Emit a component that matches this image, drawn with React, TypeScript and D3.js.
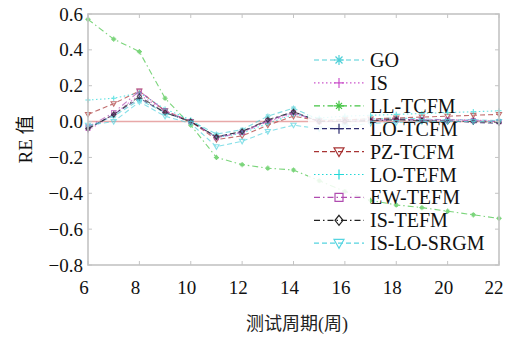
import React from "react";
import * as d3 from "d3";

const weeks = [6, 7, 8, 9, 10, 11, 12, 13, 14, 15, 16, 17, 18, 19, 20, 21, 22];
const xTicks = [6, 8, 10, 12, 14, 16, 18, 20, 22];
const yTicks = [0.6, 0.4, 0.2, 0.0, -0.2, -0.4, -0.6, -0.8];

const seriesNames = ["GO", "IS", "LL-TCFM", "LO-TCFM", "PZ-TCFM", "LO-TEFM", "EW-TEFM", "IS-TEFM", "IS-LO-SRGM"];

const goVals = [-0.03, 0.03, 0.12, 0.05, 0.005, -0.07, -0.045, 0.03, 0.075, 0.01, 0.01, 0.015, 0.02, 0.015, 0.01, 0.01, 0.005];
const isVals = [-0.05, 0.04, 0.15, 0.06, 0.0, -0.09, -0.06, 0.0, 0.045, 0.0, 0.005, 0.01, 0.015, 0.01, 0.01, 0.01, 0.0];
const llVals = [0.57, 0.46, 0.39, 0.13, -0.02, -0.2, -0.24, -0.26, -0.27, -0.33, -0.39, -0.44, -0.465, -0.48, -0.5, -0.52, -0.54];
const loTcfmVals = [-0.04, 0.04, 0.13, 0.05, 0.0, -0.085, -0.055, 0.005, 0.055, 0.0, 0.0, 0.005, 0.015, 0.005, 0.005, -0.005, -0.01];
const pzVals = [0.04, 0.1, 0.17, 0.06, 0.0, -0.1, -0.08, -0.02, 0.03, 0.005, 0.01, 0.015, 0.02, 0.025, 0.03, 0.035, 0.04];
const loTefmVals = [0.12, 0.13, 0.16, 0.07, 0.01, -0.09, -0.065, -0.01, 0.04, 0.02, 0.03, 0.035, 0.04, 0.045, 0.05, 0.055, 0.06];
const ewVals = [-0.03, 0.05, 0.17, 0.06, 0.0, -0.09, -0.06, 0.005, 0.05, 0.0, 0.0, 0.005, 0.01, 0.01, 0.01, 0.005, 0.0];
const isTefmVals = [-0.04, 0.04, 0.14, 0.05, 0.0, -0.085, -0.055, 0.01, 0.055, 0.0, 0.0, 0.005, 0.01, 0.005, 0.0, 0.0, -0.005];
const isLoVals = [-0.02, 0.0, 0.11, 0.03, -0.01, -0.14, -0.11, -0.055, -0.02, -0.04, -0.025, -0.01, -0.005, 0.0, 0.0, 0.0, 0.0];

const allVals = [goVals, isVals, llVals, loTcfmVals, pzVals, loTefmVals, ewVals, isTefmVals, isLoVals];

const styles = [
  { color: "#4fd0d8", dash: "5,3", marker: "asterisk" },
  { color: "#cc55cc", dash: "1.5,2.5", marker: "plus" },
  { color: "#44c444", dash: "6,3,1.5,3", marker: "star" },
  { color: "#2b2b6e", dash: "5,3", marker: "plus" },
  { color: "#a83434", dash: "5,3", marker: "tri" },
  { color: "#22d8d8", dash: "1.5,2.5", marker: "plus" },
  { color: "#b04cb0", dash: "6,3,1.5,3", marker: "square" },
  { color: "#222222", dash: "6,3,1.5,3", marker: "diamond" },
  { color: "#55d4e0", dash: "5,3", marker: "tri" },
];

const W = 506;
const H = 338;
const margin = { left: 88, right: 7, top: 14, bottom: 73 };
const serif = "'Liberation Serif', 'Times New Roman', serif";
const cjk = "'Liberation Serif', 'Noto Sans CJK SC', serif";

function markerPath(kind: string, s: number) {
  switch (kind) {
    case "plus":
      return `M${-s},0H${s}M0,${-s}V${s}`;
    case "asterisk":
      return `M${-s},0H${s}M0,${-s}V${s}M${-s * 0.7},${-s * 0.7}L${s * 0.7},${s * 0.7}M${-s * 0.7},${s * 0.7}L${s * 0.7},${-s * 0.7}`;
    case "star":
      return `M${-s},0H${s}M0,${-s}V${s}M${-s * 0.6},${-s * 0.6}L${s * 0.6},${s * 0.6}M${-s * 0.6},${s * 0.6}L${s * 0.6},${-s * 0.6}`;
    case "tri":
      return `M${-s},${-s * 0.75}L${s},${-s * 0.75}L0,${s}Z`;
    case "square":
      return `M${-s * 0.8},${-s * 0.8}H${s * 0.8}V${s * 0.8}H${-s * 0.8}Z`;
    case "diamond":
      return `M0,${-s}L${s * 0.8},0L0,${s}L${-s * 0.8},0Z`;
    default:
      return "";
  }
}

const fmt = (v: number) => (v < 0 ? "\u2212" : "") + Math.abs(v).toFixed(1);

export default function App() {
  const x = d3.scaleLinear().domain([6, 22]).range([margin.left, W - margin.right]);
  const y = d3.scaleLinear().domain([-0.8, 0.6]).range([H - margin.bottom, margin.top]);
  const line = d3
    .line<number>()
    .x((_, i) => x(weeks[i]))
    .y((d) => y(d));

  const x0 = x.range()[0];
  const x1 = x.range()[1];
  const y0 = y.range()[0];
  const y1 = y.range()[1];
  const axisColor = "#c4c4c4";

  const legX = 308;
  const legY = 46;
  const rowH = 22.9;

  return (
    <svg width={W} height={H} style={{ position: "absolute", left: 0, top: 0 }}>
      <rect width={W} height={H} fill="#fff" />
      {/* zero reference */}
      <line x1={x0} x2={x1} y1={y(0)} y2={y(0)} stroke="#e8a8a8" strokeWidth={1.5} />

      {allVals.map((vals, k) => (
        <g key={seriesNames[k]} opacity={0.7}>
          <path d={line(vals) || ""} fill="none" stroke={styles[k].color} strokeWidth={1.1} strokeDasharray={styles[k].dash} />
          {vals.map((v, i) => (
            <path
              key={i}
              transform={`translate(${x(weeks[i])},${y(v)})`}
              d={markerPath(styles[k].marker, 2.6)}
              fill="none"
              stroke={styles[k].color}
              strokeWidth={1.1}
            />
          ))}
        </g>
      ))}

      {/* axes box */}
      <rect x={x0} y={y1} width={x1 - x0} height={y0 - y1} fill="none" stroke={axisColor} strokeWidth={1.6} />
      {xTicks.map((t) => (
        <g key={"xt" + t}>
          <line x1={x(t)} x2={x(t)} y1={y0} y2={y0 - 4} stroke={axisColor} />
          <line x1={x(t)} x2={x(t)} y1={y1} y2={y1 + 4} stroke={axisColor} />
          <text x={Math.min(x(t) - 4, W - 12)} y={y0 + 29} textAnchor="middle" fontFamily={serif} fontSize={19} fill="#111">
            {t}
          </text>
        </g>
      ))}
      {yTicks.map((t) => (
        <g key={"yt" + t}>
          <line x1={x0} x2={x0 + 4} y1={y(t)} y2={y(t)} stroke={axisColor} />
          <line x1={x1} x2={x1 - 4} y1={y(t)} y2={y(t)} stroke={axisColor} />
          <text x={x0 - 5} y={y(t) + 6.5} textAnchor="end" fontFamily={serif} fontSize={19} fill="#111">
            {fmt(t)}
          </text>
        </g>
      ))}

      {/* legend */}
      <rect x={legX} y={legY} width={62} height={rowH * 9 + 6} fill="#fff" opacity={0.85} />
      {seriesNames.map((name, k) => {
        const cy = legY + 14 + k * rowH;
        return (
          <g key={"leg" + name}>
            <line x1={legX + 6} x2={legX + 56} y1={cy} y2={cy} stroke={styles[k].color} strokeWidth={1.2} strokeDasharray={styles[k].dash} />
            <path
              transform={`translate(${legX + 31},${cy})`}
              d={markerPath(styles[k].marker, 5)}
              fill={styles[k].marker === "star" ? styles[k].color : "none"}
              stroke={styles[k].color}
              strokeWidth={1.2}
            />
            <text x={legX + 62} y={cy + 7} fontFamily={serif} fontSize={20} fill="#111">
              {name}
            </text>
          </g>
        );
      })}

      {/* axis titles */}
      <text x={297} y={330} textAnchor="middle" fontFamily={cjk} fontSize={18} fill="#222">
        测试周期(周)
      </text>
      <text
        transform={`translate(${32},${y(-0.1)}) rotate(-90)`}
        textAnchor="middle"
        fontFamily={cjk}
        fontSize={19}
        fill="#111"
      >
        RE 值
      </text>
    </svg>
  );
}
